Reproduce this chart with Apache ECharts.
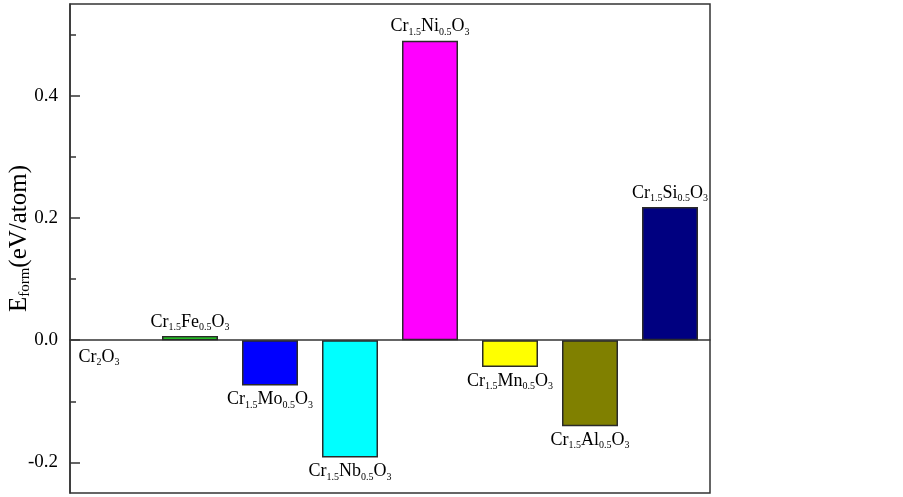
<!DOCTYPE html>
<html><head><meta charset="utf-8">
<script src="https://cdn.jsdelivr.net/npm/echarts@6/dist/echarts.min.js"></script>
<style>html,body{margin:0;padding:0;background:#fff}#c{width:903px;height:497px}</style>
</head><body><div id="c"></div>
<script>
const categories = ['Cr2O3','Cr1.5Fe0.5O3','Cr1.5Mo0.5O3','Cr1.5Nb0.5O3','Cr1.5Ni0.5O3','Cr1.5Mn0.5O3','Cr1.5Al0.5O3','Cr1.5Si0.5O3'];
const values = [0, 0.007, -0.074, -0.192, 0.490, -0.044, -0.141, 0.218];
const colors = ['#ffffff','#22ee22','#0000ff','#00ffff','#ff00ff','#ffff00','#808000','#000080'];
const majorTicks = [-0.2, 0.0, 0.2, 0.4];
const minorTicks = [-0.1, 0.1, 0.3, 0.5];

const FONT = '"Liberation Serif", "Times New Roman", serif';
function richName(s){ return s.replace(/([A-Za-z]+)([\d.]+)/g, '{n|$1}{s|$2}'); }
const richStyles = {
  n:{fontFamily:FONT,fontSize:18,color:'#000',lineHeight:20},
  s:{fontFamily:FONT,fontSize:10,color:'#000',lineHeight:20,padding:[11,0,0,0]}
};

const data = values.map((v,i)=>{
  const neg = v <= 0;
  const lab = {show:true, position: neg ? 'bottom':'top', distance: 4,
    formatter: richName(categories[i]), rich: richStyles};
  if(i===0){ lab.offset=[-11,2]; }
  return {value:v, itemStyle:{color:colors[i], borderColor: i===0?'rgba(0,0,0,0)':'#2a2a2a', borderWidth:1.5}, label:lab};
});

const chart = echarts.init(document.getElementById('c'));
chart.setOption({
  animation:false,
  backgroundColor:'#fff',
  grid:{left:70,right:193,top:4,bottom:4,outerBoundsMode:'none',containLabel:false,show:true,borderColor:'#333',borderWidth:1.5,backgroundColor:'transparent'},
  xAxis:{type:'category',data:categories,
    axisLine:{onZero:true,lineStyle:{color:'#333',width:1.5}},
    axisTick:{show:false},axisLabel:{show:false},splitLine:{show:false}},
  yAxis:[{type:'value',min:-0.25,max:0.55,
    name:'{e|E}{f|form}{p|(eV/atom)}',nameLocation:'middle',nameRotate:90,nameGap:37,nameMoveOverlap:false,
    nameTextStyle:{padding:[0,0,0,20],rich:{
      e:{fontFamily:FONT,fontSize:25,color:'#000',lineHeight:28},
      f:{fontFamily:FONT,fontSize:15,color:'#000',lineHeight:28,padding:[13,0,0,0]},
      p:{fontFamily:FONT,fontSize:25,color:'#000',lineHeight:28}
    }},
    axisLine:{show:true,lineStyle:{color:'#333',width:1.5}},
    axisTick:{show:true,inside:true,length:10,customValues:majorTicks,lineStyle:{color:'#333',width:1.5}},
    axisLabel:{show:true,customValues:majorTicks,margin:12,fontFamily:FONT,fontSize:19,color:'#000',
      formatter:v=>v.toFixed(1)},
    splitLine:{show:false}},
   {type:'value',min:-0.25,max:0.55,position:'left',
    axisLine:{show:false},
    axisTick:{show:true,inside:true,length:6,customValues:minorTicks,lineStyle:{color:'#333',width:1.5}},
    axisLabel:{show:false},splitLine:{show:false}}
  ],
  series:[{type:'bar',data:data,barWidth:'70%',yAxisIndex:0}]
});
</script></body></html>
